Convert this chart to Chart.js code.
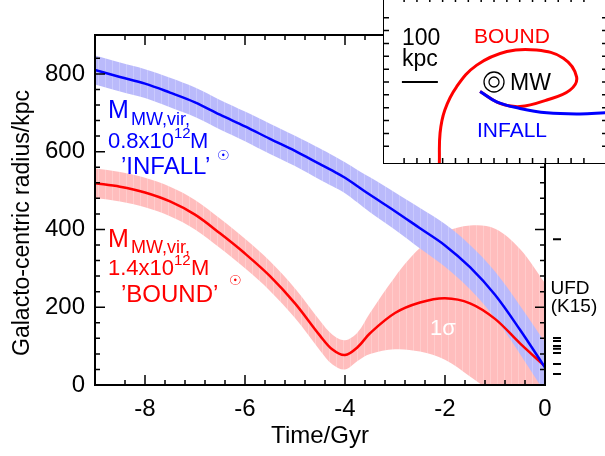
<!DOCTYPE html>
<html>
<head>
<meta charset="utf-8">
<script src="https://cdn.jsdelivr.net/npm/chart.js@4.4.1/dist/chart.umd.min.js"></script>
<style>
html, body { margin: 0; padding: 0; background: #fff; overflow: hidden; }
#wrap { position: relative; width: 605px; height: 456px; }
#main { position: absolute; left: 0; top: 0; }
#inset { position: absolute; left: 383px; top: -4px; }
</style>
</head>
<body>
<div id="wrap">
<canvas id="main" width="605" height="456"></canvas>
<canvas id="inset" width="225" height="168"></canvas>
</div>
<script>
// time axis (Gyr) and galacto-centric radius (kpc)
var times   = [-9, -8.5, -8, -7.5, -7, -6.5, -6, -5.5, -5, -4.5, -4.25, -4, -3.75, -3.5, -3, -2.5, -2, -1.5, -1, -0.5, 0];
var infallR = [810, 792, 775, 752, 727, 695, 665, 633, 602, 568, 551, 533, 511, 489, 447, 403, 359, 303, 232, 142, 45];
var infallHi = [847, 829, 812, 790, 765, 733, 703, 672, 641, 608, 591, 573, 553, 534, 495, 455, 414, 360, 292, 204, 110];
var infallLo = [773, 755, 738, 714, 689, 657, 627, 594, 563, 528, 511, 493, 469, 444, 399, 351, 304, 246, 172, 80, -20];
var boundR  = [519, 510, 495, 472, 438, 390, 338, 280, 210, 127, 91, 77, 97, 133, 185, 212, 223, 210, 170, 107, 48];
var boundHi = [557, 548, 533, 510, 476, 428, 376, 318, 248, 165, 129, 115, 135, 185, 278, 352, 393, 410, 402, 350, 262];
var boundLo = [481, 472, 457, 434, 400, 352, 300, 242, 172, 89, 53, 40, 62, 80, 92, 86, 65, 22, -25, -70, -110];

// UFD radii (K15), drawn as short dashes right of the plot
var ufdR = [375, 121, 113, 100, 93, 82, 54, 28];

var xTickVals = [-8, -6, -4, -2, 0];
var xTickLabels = ['-8', '-6', '-4', '-2', '0'];
var yTickVals = [0, 200, 400, 600, 800];
var yTickLabels = ['0', '200', '400', '600', '800'];

// inset orbits, kpc, MW at origin
var boundOrbitX = [-150, -149, -147, -134, -102, -47, 35, 116, 189, 225, 207, 144, 71, 16, -38];
var boundOrbitY = [-250, -222, -139, -76, -13, 46, 83, 87, 65, 14, -22, -49, -67, -58, -26];
var infallOrbitX = [-38, 7, 71, 144, 234, 302, 343];
var infallOrbitY = [-26, -54, -72, -84, -87, -84, -82];
var barX = [-251, -153];
var barY = [0, 0];

var FONT = "'Liberation Sans', Arial, sans-serif";
Chart.defaults.font.family = FONT;
Chart.defaults.color = '#000';

function pts(xs, ys) {
    return xs.map(function (x, i) { return {x: x, y: ys[i]}; });
}

function stripes(base, light) {
    var c = document.createElement('canvas');
    c.width = 7; c.height = 4;
    var g = c.getContext('2d');
    g.fillStyle = base; g.fillRect(0, 0, 7, 4);
    g.fillStyle = light; g.fillRect(0, 0, 1, 4);
    return g.createPattern(c, 'repeat');
}

function near(list, v) {
    for (var i = 0; i < list.length; i++) if (Math.abs(list[i] - v) < 1e-6) return i;
    return -1;
}

// frame with inward ticks on all four sides
function frameTicks(majX, majY, majLen, minLen) {
    return {
        id: 'frameTicks',
        afterDatasetsDraw: function (chart) {
            var ctx = chart.ctx, a = chart.chartArea, x = chart.scales.x, y = chart.scales.y;
            ctx.save();
            ctx.strokeStyle = '#000';
            ctx.lineWidth = 1.5;
            ctx.beginPath();
            x.ticks.forEach(function (t) {
                var p = x.getPixelForValue(t.value);
                var len = near(majX, t.value) >= 0 ? majLen : minLen;
                ctx.moveTo(p, a.bottom); ctx.lineTo(p, a.bottom - len);
                ctx.moveTo(p, a.top); ctx.lineTo(p, a.top + len);
            });
            y.ticks.forEach(function (t) {
                var p = y.getPixelForValue(t.value);
                var len = near(majY, t.value) >= 0 ? majLen : minLen;
                ctx.moveTo(a.left, p); ctx.lineTo(a.left + len, p);
                ctx.moveTo(a.right, p); ctx.lineTo(a.right - len, p);
            });
            ctx.stroke();
            ctx.lineWidth = 2;
            ctx.strokeRect(a.left, a.top, a.right - a.left, a.bottom - a.top);
            ctx.restore();
        }
    };
}

function texts(items) {
    return {
        id: 'texts',
        afterDraw: function (chart) {
            var ctx = chart.ctx;
            items.forEach(function (it) {
                ctx.save();
                ctx.textBaseline = 'alphabetic';
                ctx.font = it.size + 'px ' + (it.family || FONT);
                ctx.fillStyle = it.color || '#000';
                ctx.textAlign = it.align || 'left';
                ctx.translate(it.x, it.y);
                if (it.rot) ctx.rotate(it.rot);
                ctx.fillText(it.t, 0, 0);
                ctx.restore();
            });
        }
    };
}

var whiteBg = {
    id: 'whiteBg',
    beforeDraw: function (chart) {
        var ctx = chart.ctx;
        ctx.save();
        ctx.fillStyle = '#fff';
        ctx.fillRect(0, 0, chart.width, chart.height);
        ctx.restore();
    }
};

var BLUE = '#0000ff', RED = '#ff0000';
var SUN = "'DejaVu Sans', sans-serif";

var mainTexts = [
    {t: 'Galacto-centric radius/kpc', x: 29, y: 223, size: 23, align: 'center', rot: -Math.PI / 2},
    {t: 'M', x: 108, y: 118, size: 25, color: BLUE},
    {t: 'MW,vir,', x: 131, y: 125, size: 18, color: BLUE},
    {t: '0.8x10', x: 108, y: 148, size: 22, color: BLUE},
    {t: '12', x: 174, y: 138, size: 15, color: BLUE},
    {t: 'M', x: 190, y: 148, size: 22, color: BLUE},
    {t: '\u2609', x: 217, y: 160, size: 14, color: BLUE, family: SUN},
    {t: '\u2019INFALL\u2019', x: 121, y: 174, size: 24, color: BLUE},
    {t: 'M', x: 108, y: 247, size: 25, color: RED},
    {t: 'MW,vir,', x: 131, y: 253, size: 18, color: RED},
    {t: '1.4x10', x: 108, y: 275, size: 22, color: RED},
    {t: '12', x: 174, y: 265, size: 15, color: RED},
    {t: 'M', x: 191, y: 275, size: 22, color: RED},
    {t: '\u2609', x: 229, y: 285, size: 14, color: RED, family: SUN},
    {t: '\u2019BOUND\u2019', x: 121, y: 302, size: 24, color: RED},
    {t: '1\u03c3', x: 430, y: 335, size: 22, color: '#fff'},
    {t: 'UFD', x: 570, y: 294, size: 19, align: 'center'},
    {t: '(K15)', x: 574, y: 312, size: 19, align: 'center'}
];

var ufdData = [];
ufdR.forEach(function (r) {
    ufdData.push({x: 0.16, y: r}, {x: 0.32, y: r}, {x: 0.24, y: null});
});

var lineBase = {pointRadius: 0, tension: 0.35, fill: false};

new Chart(document.getElementById('main'), {
    type: 'line',
    data: {
        datasets: [
            Object.assign({}, lineBase, {data: pts(times, boundLo), borderWidth: 0, borderColor: 'transparent', order: 6}),
            Object.assign({}, lineBase, {data: pts(times, boundHi), borderWidth: 0, borderColor: 'transparent',
                fill: '-1', backgroundColor: stripes('#ffbdbd', '#ffcccc'), order: 5}),
            Object.assign({}, lineBase, {data: pts(times, infallLo), borderWidth: 0, borderColor: 'transparent', order: 4}),
            Object.assign({}, lineBase, {data: pts(times, infallHi), borderWidth: 0, borderColor: 'transparent',
                fill: '-1', backgroundColor: stripes('#babafb', '#c9c9fd'), order: 3}),
            Object.assign({}, lineBase, {data: pts(times, boundR), borderColor: RED, borderWidth: 2.5, order: 2}),
            Object.assign({}, lineBase, {data: pts(times, infallR), borderColor: BLUE, borderWidth: 2.5, order: 1}),
            {data: ufdData, borderColor: '#000', borderWidth: 2, pointRadius: 0, tension: 0,
                spanGaps: false, clip: false, fill: false, order: 0}
        ]
    },
    options: {
        responsive: false,
        devicePixelRatio: 1,
        animation: false,
        events: [],
        layout: {autoPadding: false, padding: {left: 0, right: 60, top: 35, bottom: 0}},
        plugins: {legend: {display: false}, tooltip: {enabled: false}},
        scales: {
            x: {
                type: 'linear', min: -9, max: 0,
                grid: {display: false, drawTicks: false},
                border: {display: false},
                ticks: {
                    stepSize: 0.4, autoSkip: false, maxRotation: 0, minRotation: 0,
                    padding: 10, font: {size: 24},
                    callback: function (v) { var i = near(xTickVals, v); return i >= 0 ? xTickLabels[i] : ''; }
                },
                title: {display: true, text: 'Time/Gyr', font: {size: 24}, padding: {top: 0, bottom: 5}},
                afterFit: function (s) { s.height = 71; }
            },
            y: {
                type: 'linear', min: 0, max: 900,
                grid: {display: false, drawTicks: false},
                border: {display: false},
                ticks: {
                    stepSize: 40, autoSkip: false, padding: 10, font: {size: 24},
                    callback: function (v) { var i = near(yTickVals, v); return i >= 0 ? yTickLabels[i] : ''; }
                },
                afterFit: function (s) { s.width = 95; }
            }
        }
    },
    plugins: [whiteBg, frameTicks(xTickVals, yTickVals, 10, 5), texts(mainTexts)]
});

var insetTexts = [
    {t: '100', x: 19, y: 49, size: 23},
    {t: 'kpc', x: 19, y: 70, size: 23},
    {t: 'BOUND', x: 91, y: 47, size: 21, color: RED},
    {t: 'MW', x: 127, y: 94, size: 23},
    {t: 'INFALL', x: 94, y: 141, size: 21, color: BLUE}
];

new Chart(document.getElementById('inset'), {
    type: 'line',
    data: {
        datasets: [
            {data: pts(boundOrbitX, boundOrbitY), borderColor: RED, borderWidth: 3, pointRadius: 0, tension: 0.4, fill: false, order: 4},
            {data: pts(infallOrbitX, infallOrbitY), borderColor: BLUE, borderWidth: 3, pointRadius: 0, tension: 0.4, fill: false, order: 3},
            {data: pts(barX, barY), borderColor: '#000', borderWidth: 2, pointRadius: 0, tension: 0, fill: false, order: 2},
            {data: [{x: 0, y: 0}], showLine: false, pointRadius: 10, pointBorderWidth: 1.3,
                pointBorderColor: '#000', pointBackgroundColor: 'rgba(0,0,0,0)', order: 1},
            {data: [{x: 0, y: 0}], showLine: false, pointRadius: 5, pointBorderWidth: 1.3,
                pointBorderColor: '#000', pointBackgroundColor: 'rgba(0,0,0,0)', order: 0}
        ]
    },
    options: {
        responsive: false,
        devicePixelRatio: 1,
        animation: false,
        events: [],
        layout: {autoPadding: false, padding: 0},
        plugins: {legend: {display: false}, tooltip: {enabled: false}},
        scales: {
            x: {
                type: 'linear', min: -302.5, max: 310.6,
                grid: {display: false, drawTicks: false}, border: {display: false},
                ticks: {display: false, stepSize: 35},
                afterFit: function (s) { s.height = 0; }
            },
            y: {
                type: 'linear', min: -223.4, max: 234.3,
                grid: {display: false, drawTicks: false}, border: {display: false},
                ticks: {display: false, stepSize: 35},
                afterFit: function (s) { s.width = 0; }
            }
        }
    },
    plugins: [whiteBg, frameTicks([], [], 6, 6), texts(insetTexts)]
});
</script>
</body>
</html>
